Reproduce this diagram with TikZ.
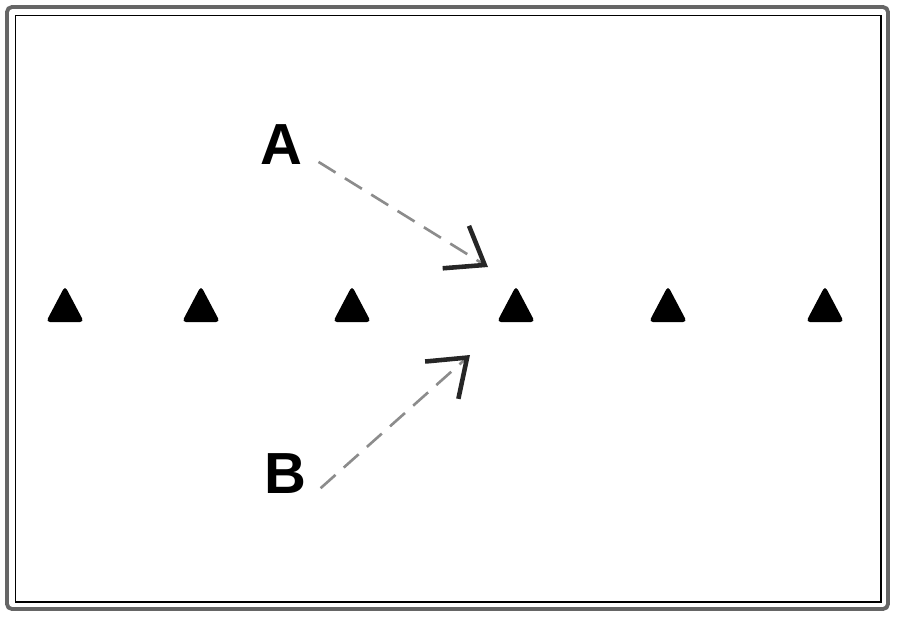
\documentclass[tikz,border=0pt]{standalone}
\usepackage{fontspec}
\setsansfont{Liberation Sans}
\usetikzlibrary{arrows.meta}

\begin{document}
\begin{tikzpicture}[x=0.02cm,y=-0.02cm,
    cone/.style={fill=black,rounded corners=0.08cm},
    letter/.style={font=\sffamily\bfseries\fontsize{33}{33}\selectfont,inner sep=2pt},
    run/.style={draw=black!45,line width=1.5pt,dash pattern=on 0.4cm off 0.22cm,
        -{Straight Barb[length=0.68cm,width=1.0cm,line width=2.6pt,color=black!85]}}]

  \useasboundingbox (0,0) rectangle (900,620);
  % frame
  \draw[black!60,line width=2.2pt,rounded corners=0.1cm] (7,7) rectangle (888,609);
  \draw[line width=1.1pt] (15.5,15.5) rectangle (881,602);

  % row of cones
  \foreach \x [count=\i] in {65,201,352,516,668,825}{
    \coordinate (c\i) at (\x,304);
    \fill[cone] (\x-19,322) -- (\x,286) -- (\x+19,322) -- cycle;
  }

  \node[letter] (labA) at (281,145) {A};
  \node[letter] (labB) at (285,474) {B};
  \coordinate (gapA) at (488,267);
  \coordinate (gapB) at (470,355);

  \draw[run,shorten <=0.3cm] (labA.-20) -- (gapA);
  \draw[run,shorten <=0.29cm] (labB.south east) -- (gapB);
\end{tikzpicture}
\end{document}
